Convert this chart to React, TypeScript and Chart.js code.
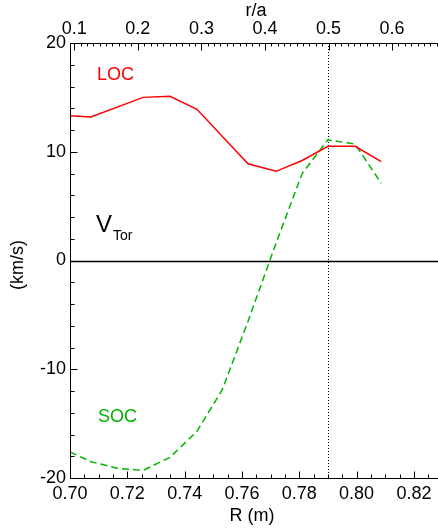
import React, { useEffect, useRef } from 'react';
import { Chart, registerables } from 'chart.js';
Chart.register(...registerables);

// Data
const R_LOC = [0.700, 0.7073, 0.7255, 0.7349, 0.7443, 0.7621, 0.7719, 0.7810, 0.7900, 0.7995, 0.8086];
const V_LOC = [13.3, 13.2, 15.0, 15.1, 13.9, 8.9, 8.2, 9.2, 10.5, 10.5, 9.1];
const R_SOC = [0.700, 0.7073, 0.7164, 0.7255, 0.7349, 0.7443, 0.7531, 0.7621, 0.7719, 0.7810, 0.7900, 0.7995, 0.8086];
const V_SOC = [-17.6, -18.5, -19.1, -19.3, -18.1, -15.7, -11.9, -5.6, 1.6, 8.0, 11.1, 10.7, 7.1];
const R_TICKS_MIN = 0.70;
const R_TICKS_MAX = 0.8284;
const RA_MIN = 0.0933;
const RA_MAX = 0.6722;
const V_MIN = -20;
const V_MAX = 20;
const R_MARK = 0.79;

const FONT = '"Liberation Sans", Arial, Helvetica, sans-serif';

const overlay = {
  id: 'overlay',
  beforeDatasetsDraw(chart: any) {
    const { ctx, chartArea: a, scales } = chart;
    const x = scales.x, y = scales.y;
    ctx.save();
    const y0 = Math.round(y.getPixelForValue(0)) + 0.5;
    ctx.strokeStyle = '#000';
    ctx.lineWidth = 1.4;
    ctx.beginPath();
    ctx.moveTo(a.left, y0);
    ctx.lineTo(a.right, y0);
    ctx.stroke();
    const xm = Math.round(x.getPixelForValue(R_MARK)) + 0.5;
    ctx.lineWidth = 1;
    ctx.setLineDash([1, 2]);
    ctx.beginPath();
    ctx.moveTo(xm, a.top);
    ctx.lineTo(xm, a.bottom);
    ctx.stroke();
    ctx.restore();
  },
  afterDraw(chart: any) {
    const { ctx, chartArea: a, scales } = chart;
    const x = scales.x, y = scales.y, x2 = scales.x2;
    ctx.save();
    ctx.strokeStyle = '#000';
    ctx.lineWidth = 1;
    const L = Math.round(a.left) + 0.5;
    const T = Math.round(a.top) + 0.5;
    const B = Math.round(a.bottom) + 0.5;
    ctx.beginPath();
    ctx.moveTo(L, T); ctx.lineTo(a.right, T);
    ctx.moveTo(L, T); ctx.lineTo(L, B);
    ctx.moveTo(L, B); ctx.lineTo(a.right, B);
    ctx.stroke();
    ctx.beginPath();
    for (let v = V_MIN; v <= V_MAX; v += 2) {
      const py = Math.round(y.getPixelForValue(v)) + 0.5;
      const len = v % 10 === 0 ? 7 : 4;
      ctx.moveTo(L, py); ctx.lineTo(L + len, py);
    }
    for (let i = 0; ; i++) {
      const r = R_TICKS_MIN + i * 0.005;
      if (r > R_TICKS_MAX) break;
      const px = Math.round(x.getPixelForValue(r)) + 0.5;
      const len = i % 4 === 0 ? 7 : 4;
      ctx.moveTo(px, B); ctx.lineTo(px, B - len);
    }
    for (let i = 10; ; i++) {
      const r = i * 0.01;
      if (r > RA_MAX) break;
      const px = Math.round(x2.getPixelForValue(r)) + 0.5;
      const len = i % 10 === 0 ? 7 : 3;
      ctx.moveTo(px, T); ctx.lineTo(px, T + len);
    }
    ctx.stroke();

    ctx.fillStyle = '#000';
    ctx.font = `18px ${FONT}`;
    ctx.textAlign = 'center';
    ctx.textBaseline = 'middle';
    ctx.fillText('R (m)', 252, 516);
    ctx.fillText('r/a', 256, 11);
    ctx.save();
    ctx.translate(18, 265);
    ctx.rotate(-Math.PI / 2);
    ctx.fillText('(km/s)', 0, 0);
    ctx.restore();

    ctx.textAlign = 'left';
    ctx.fillStyle = '#ff0000';
    ctx.fillText('LOC', 97, 75);
    ctx.fillStyle = '#00b400';
    ctx.fillText('SOC', 98, 417);
    ctx.fillStyle = '#000';
    ctx.textBaseline = 'alphabetic';
    ctx.font = `24px ${FONT}`;
    ctx.fillText('V', 96, 232);
    ctx.font = `14px ${FONT}`;
    ctx.fillText('Tor', 113, 240);
    ctx.restore();
  },
};

export default function App() {
  const ref = useRef<HTMLCanvasElement>(null);
  useEffect(() => {
    const canvas = ref.current!;
    const chart = new Chart(canvas, {
      type: 'line',
      data: {
        datasets: [
          {
            label: 'LOC',
            data: R_LOC.map((r, i) => ({ x: r, y: V_LOC[i] })),
            borderColor: '#ff0000',
            borderWidth: 1.5,
            pointRadius: 0,
            tension: 0,
            xAxisID: 'x',
            yAxisID: 'y',
          },
          {
            label: 'SOC',
            data: R_SOC.map((r, i) => ({ x: r, y: V_SOC[i] })),
            borderColor: '#00b400',
            borderWidth: 1.5,
            borderDash: [7, 4],
            pointRadius: 0,
            tension: 0,
            xAxisID: 'x',
            yAxisID: 'y',
          },
        ],
      },
      options: {
        animation: false,
        responsive: false,
        layout: { padding: 0 },
        plugins: { legend: { display: false }, tooltip: { enabled: false } },
        scales: {
          x: {
            type: 'linear',
            position: 'bottom',
            min: R_TICKS_MIN,
            max: R_TICKS_MAX,
            grid: { display: false, drawTicks: false },
            border: { display: false },
            ticks: {
              stepSize: 0.02,
              includeBounds: false,
              padding: 5,
              color: '#000',
              font: { family: FONT, size: 18 },
              maxRotation: 0,
              autoSkip: false,
              callback: (v: any) => Number(v).toFixed(2),
            },
            afterFit: (s: any) => { s.height = 51; },
          },
          x2: {
            type: 'linear',
            position: 'top',
            min: RA_MIN,
            max: RA_MAX,
            grid: { display: false, drawTicks: false },
            border: { display: false },
            ticks: {
              stepSize: 0.1,
              includeBounds: false,
              padding: 3,
              color: '#000',
              font: { family: FONT, size: 18 },
              maxRotation: 0,
              autoSkip: false,
              callback: (v: any) => Number(v).toFixed(1),
            },
            afterFit: (s: any) => { s.height = 43; },
          },
          y: {
            type: 'linear',
            position: 'left',
            min: V_MIN,
            max: V_MAX,
            grid: { display: false, drawTicks: false },
            border: { display: false },
            ticks: {
              stepSize: 10,
              padding: 4,
              color: '#000',
              font: { family: FONT, size: 18 },
              callback: (v: any) => String(v),
            },
            afterFit: (s: any) => { s.width = 70; },
          },
        },
      },
      plugins: [overlay],
    });
    return () => chart.destroy();
  }, []);
  return (
    <div style={{ position: 'absolute', left: 0, top: 0, width: 438, height: 529, background: '#fff' }}>
      <canvas ref={ref} width={438} height={529} style={{ display: 'block' }} />
    </div>
  );
}
